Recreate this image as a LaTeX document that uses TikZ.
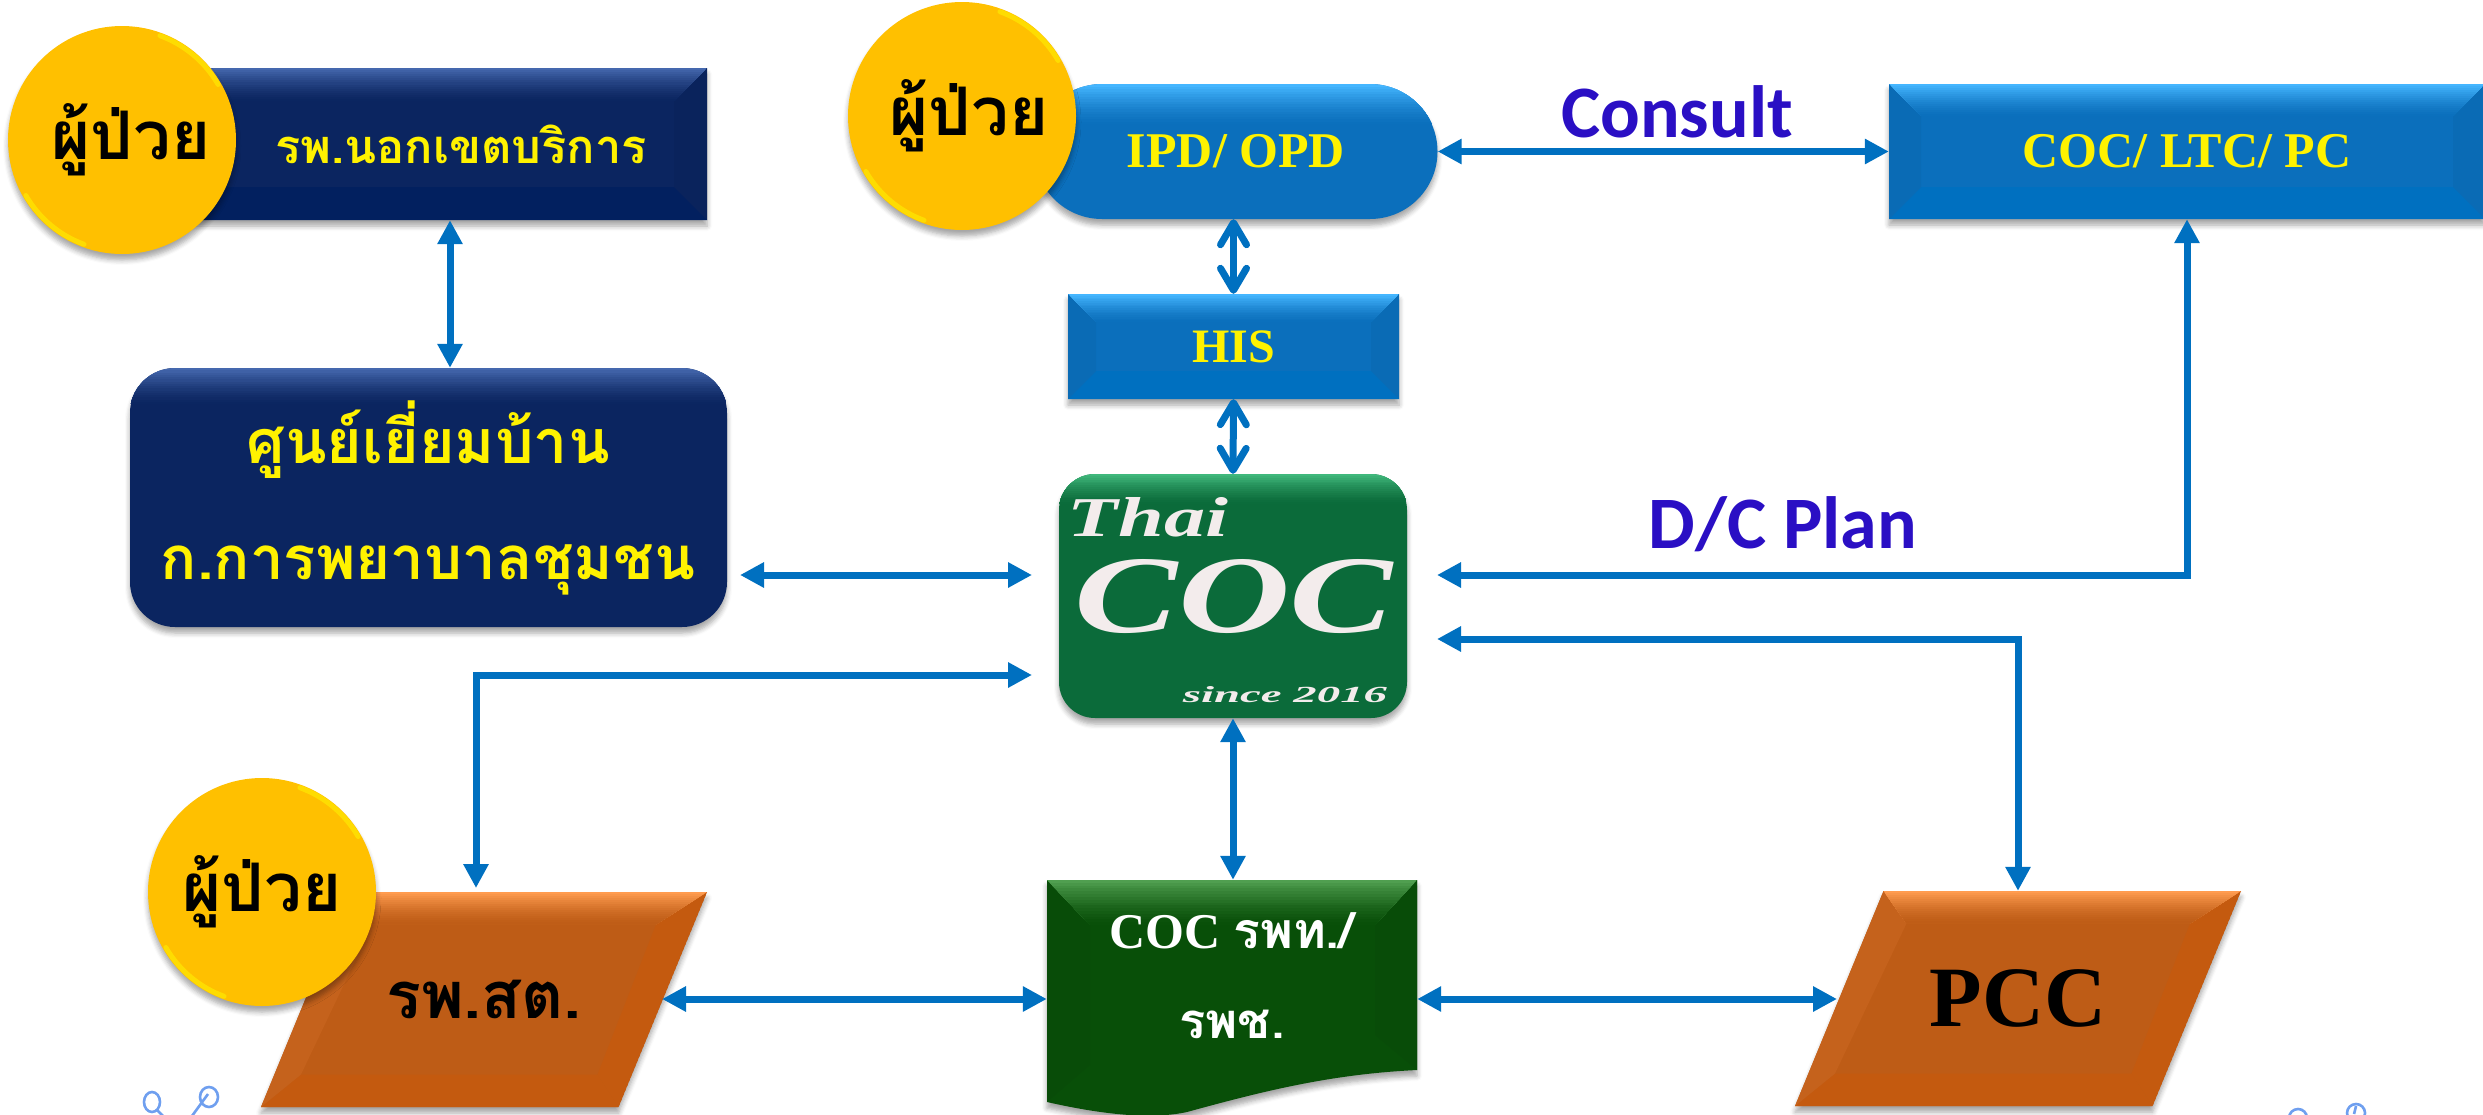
\documentclass[tikz,border=0pt]{standalone}
\usepackage{fontspec}
\usepackage{graphicx}
\usetikzlibrary{arrows.meta,shapes.geometric,shapes.misc,shadows.blur,calc}
\setmainfont{Liberation Serif}
\newfontfamily\thaifont[Script=Thai]{Loma}
\newfontfamily\labelfont{Carlito}
\newcommand{\fs}[1]{\fontsize{#1}{#1}\selectfont}
\definecolor{navy}{HTML}{0B2560}
\definecolor{navytop}{HTML}{4568AE}
\definecolor{navybot}{HTML}{02205F}
\definecolor{sky}{HTML}{0B6FBC}
\definecolor{skytop}{HTML}{45B6FF}
\definecolor{skybot}{HTML}{0070C0}
\definecolor{leaf}{HTML}{0B6B3A}
\definecolor{leaftop}{HTML}{40B87C}
\definecolor{forest}{HTML}{084F08}
\definecolor{foresttop}{HTML}{509F50}
\definecolor{forestbot}{HTML}{034A02}
\definecolor{rust}{HTML}{BE5C16}
\definecolor{rusttop}{HTML}{FF9C50}
\definecolor{rustbot}{HTML}{C45A0F}
\definecolor{gold}{HTML}{FFC000}
\definecolor{wire}{HTML}{0070C0}
\definecolor{ink}{HTML}{2A0FC4}
\definecolor{logotext}{HTML}{F3ECEC}
\definecolor{curl}{HTML}{6F9FEF}
\tikzset{
  softshadow/.style={blur shadow={shadow xshift=0pt,shadow yshift=-6pt,shadow blur radius=5pt,shadow blur steps=5,shadow opacity=35}},
  bevel/.style n args={4}{fill=#2,softshadow,path picture={
    \fill[#3,sharp corners] ([xshift=#4,yshift=#4]path picture bounding box.south west) -- (path picture bounding box.south west) -- (path picture bounding box.south east) -- ([xshift=-#4,yshift=#4]path picture bounding box.south east) -- cycle;
    \fill[#2!96!black,sharp corners] (path picture bounding box.north east) -- (path picture bounding box.south east) -- ([xshift=-#4,yshift=#4]path picture bounding box.south east) -- ([xshift=-#4,yshift=-#4]path picture bounding box.north east) -- cycle;
    \fill[#2!96!black,sharp corners] (path picture bounding box.north west) -- (path picture bounding box.south west) -- ([xshift=#4,yshift=#4]path picture bounding box.south west) -- ([xshift=#4,yshift=-#4]path picture bounding box.north west) -- cycle;
    \begin{scope}[sharp corners]
    \clip (path picture bounding box.north west) -- (path picture bounding box.north east) -- ([xshift=-#4,yshift=-#4]path picture bounding box.north east) -- ([xshift=#4,yshift=-#4]path picture bounding box.north west) -- cycle;
    \foreach \i in {0,...,15}{
      \pgfmathtruncatemacro\pct{100*(1-\i/16)^1.5}
      \fill[#1!\pct!#2] ([yshift=-\i*#4/16]path picture bounding box.north west) rectangle ([yshift=-#4]path picture bounding box.north east);
    }
    \end{scope}
  }},
  softtop/.style n args={3}{fill=#2,softshadow,path picture={
    \foreach \i in {0,...,15}{
      \pgfmathtruncatemacro\pct{100*(1-\i/16)^1.5}
      \fill[#1!\pct!#2,sharp corners] ([yshift=-\i*#3/16]path picture bounding box.north west) rectangle ([yshift=-#3]path picture bounding box.north east);
    }
  }},
  patient/.style={circle,minimum size=228pt,inner sep=0pt,fill=gold,softshadow,path picture={
    \draw[yellow!80!gold,line width=5pt,line cap=round,opacity=.7] ([shift={(30:111pt)}]path picture bounding box.center) arc[start angle=30,end angle=70,radius=111pt];
    \draw[yellow!80!gold,line width=5pt,line cap=round,opacity=.7] ([shift={(210:111pt)}]path picture bounding box.center) arc[start angle=210,end angle=250,radius=111pt];
  }},
  link/.style={draw=wire,line width=7pt,-,{Triangle[length=24pt,width=24pt]}-{Triangle[length=24pt,width=24pt]}},
  openlink/.style={draw=wire,line width=7pt,{Straight Barb[length=22pt,width=26pt,round]}-{Straight Barb[length=22pt,width=26pt,round]}},
  yellowtxt/.style={text=yellow,font=\bfseries},
  curlstroke/.style={draw=curl,line width=2.6pt},
}
% bevelled parallelogram, centred at (#1,#2)
\newcommand{\paraback}[2]{%
\begin{scope}[shift={(#1,#2)}]
\path[fill=rust,softshadow] (-134.5,-107.5) -- (223,-107.5) -- (134.5,107.5) -- (-223,107.5) -- cycle;
\begin{scope}
\clip (-134.5,-107.5) -- (223,-107.5) -- (134.5,107.5) -- (-223,107.5) -- cycle;
\fill[rustbot] (-223,107.5) -- (134.5,107.5) -- (113.5,75) -- (-183,75) -- cycle;
\fill[rustbot] (223,-107.5) -- (134.5,107.5) -- (113.5,75) -- (172,-75) -- cycle;
\fill[rust!90!rusttop] (-134.5,-107.5) -- (-223,107.5) -- (-183,75) -- (-111.5,-75) -- cycle;
\clip (-134.5,-107.5) -- (223,-107.5) -- (172,-75) -- (-111.5,-75) -- cycle;
\foreach \i in {0,...,15}{
  \pgfmathtruncatemacro\pct{100*(1-\i/16)^1.5}
  \fill[rusttop!\pct!rust] (-230,-107.5+\i*32.5/16) rectangle (230,-75);
}
\end{scope}
\end{scope}}
\begin{document}
\begin{tikzpicture}[x=1pt,y=-1pt]
\clip (0,0) rectangle (2483,1114);
% coordinates for connector ends that stop short of a shape
\coordinate (roundE) at (740,575);
\coordinate (logoW1) at (1032,575);
\coordinate (logoW2) at (1032,675);
\coordinate (logoE1) at (1437,575);
\coordinate (logoE2) at (1437,639);
\coordinate (rsTop) at (476,888);
\coordinate (rsE) at (662,999);
\coordinate (pccW) at (1837,999);
% top-left
\node[rectangle,minimum width=514pt,minimum height=152pt,inner sep=0pt,bevel={navytop}{navy}{navybot}{33pt},yellowtxt] (out) at (450,144) {\hspace*{22pt}\raisebox{-2pt}{\thaifont\fs{47}รพ.นอกเขตบริการ}};
\node[patient] (pt1) at (122,140) {\hspace*{18pt}\raisebox{-8pt}{\thaifont\bfseries\fs{67}ผู้ป่วย}};
\node[rectangle,rounded corners=45pt,minimum width=597pt,minimum height=259pt,inner sep=0pt,softtop={navytop}{navy}{36pt}] (home) at (428.5,497.5) {};
\node[text=yellow,font=\bfseries,inner sep=0pt,anchor=base] (homeA) at (428,463) {\thaifont\fs{61}ศูนย์เยี่ยมบ้าน};
\node[text=yellow,font=\bfseries,inner sep=0pt,anchor=base] (homeB) at (428,579) {\thaifont\fs{60}ก.การพยาบาลชุมชน};
% top-centre
\node[rounded rectangle,minimum width=403pt,minimum height=135pt,inner sep=0pt,softtop={skytop}{sky}{40pt},yellowtxt] (ipd) at (1236,151.5) {\raisebox{-2pt}{\fs{50}IPD/ OPD}};
\node[patient] (pt2) at (962,116) {\hspace*{14pt}\raisebox{-6pt}{\thaifont\bfseries\fs{67}ผู้ป่วย}};
\node[rectangle,minimum width=331pt,minimum height=105pt,inner sep=0pt,bevel={skytop}{sky}{skybot}{28pt},yellowtxt] (his) at (1233.5,346.5) {\raisebox{-3pt}{\fs{48}HIS}};
% top-right
\node[rectangle,minimum width=596pt,minimum height=135pt,inner sep=0pt,bevel={skytop}{sky}{skybot}{32pt},yellowtxt] (coc) at (2187,151.5) {\raisebox{-2pt}{\fs{50}COC/ LTC/ PC}};
% logo
\node[rectangle,rounded corners=36pt,minimum width=348pt,minimum height=244pt,inner sep=0pt,softtop={leaftop}{leaf}{30pt}] (logo) at (1233,596) {};
\node[text=logotext,inner sep=0pt] (logoThai) at (1148,517.5) {\resizebox{160pt}{39pt}{\bfseries\itshape Thai}};
\node[text=logotext,inner sep=0pt] (logoCoc) at (1234,596.5) {\resizebox{318pt}{73pt}{\bfseries\itshape COC}};
\node[text=logotext,inner sep=0pt] (logoSince) at (1285,694.5) {\resizebox{204pt}{16pt}{\bfseries\itshape since 2016}};
% bottom row
\paraback{484}{999.5}
\node[minimum width=447pt,minimum height=215pt,inner sep=0pt] (rs) at (484,999.5) {\thaifont\bfseries\fs{65}รพ.สต.};
\node[patient] (pt3) at (262,892) {\thaifont\bfseries\fs{67}ผู้ป่วย};
\node[minimum width=370pt,minimum height=238pt,inner sep=0pt] (doc) at (1232,999) {};
\begin{scope}
\path[fill=forest,softshadow] (1047,880) -- (1417,880) -- (1417,1070) .. controls (1333,1074) and (1267,1090) .. (1187,1112) .. controls (1150,1120) and (1100,1114) .. (1047,1102) -- cycle;
\clip (1047,880) -- (1417,880) -- (1417,1070) .. controls (1333,1074) and (1267,1090) .. (1187,1112) .. controls (1150,1120) and (1100,1114) .. (1047,1102) -- cycle;
\fill[forest!96!black] (1047,880) -- (1090,925) -- (1090,1065) -- (1047,1102) -- cycle;
\fill[forest!96!black] (1417,880) -- (1375,925) -- (1375,1035) -- (1417,1070) -- cycle;
\clip (1047,880) -- (1417,880) -- (1375,925) -- (1090,925) -- cycle;
\foreach \i in {0,...,15}{
  \pgfmathtruncatemacro\pct{100*(1-\i/16)^1.5}
  \fill[foresttop!\pct!forest] (1047,880+\i*45/16) rectangle (1417,925);
}
\end{scope}
\node[text=white,font=\bfseries,inner sep=0pt,anchor=base] (docA) at (1232,948) {\fs{50}COC {\thaifont\fs{50}รพท./}};
\node[text=white,font=\bfseries,inner sep=0pt,anchor=base] (docB) at (1232,1038) {\thaifont\fs{49}รพช.};
\paraback{2018}{998.5}
\node[minimum width=447pt,minimum height=215pt,inner sep=0pt] (pcc) at (2018,998.5) {\bfseries\fs{86}PCC};
% labels
\node[text=ink,inner sep=0pt,anchor=base] (consult) at (1677,137) {\labelfont\bfseries\fs{74}Consult};
\node[text=ink,inner sep=0pt,anchor=base] (dcplan) at (1783,548) {\labelfont\bfseries\fs{74}D/C Plan};
% connectors
\draw[link] (out.south) -- (out.south |- home.north);
\draw[link] (roundE) -- (logoW1);
\draw[openlink] (ipd.south -| his.north) -- (his.north);
\draw[openlink] (his.south) -- (logo.north);
\draw[link] (ipd.east) -- (coc.west);
\draw[link] (logoE1) -| (coc.south);
\draw[link] (logoE2) -| (pcc.north);
\draw[link] (logoW2) -| (rsTop);
\draw[link] (logo.south) -- (logo.south |- doc.north);
\draw[link] (rsE) -- (doc.west);
\draw[link] (doc.east) -- (pccW);
% decorative curls
\draw[curlstroke] (152,1102) ellipse[x radius=8pt,y radius=10pt];
\draw[curlstroke] (157,1110) -- (163,1116);
\draw[curlstroke] (209,1097) ellipse[x radius=9pt,y radius=10pt];
\draw[curlstroke] (208,1094) -- (192,1116);
\draw[curlstroke] (2298,1118) circle[radius=9pt];
\draw[curlstroke] (2356,1113) circle[radius=9pt];
\draw[curlstroke] (2356,1106) -- (2354,1114);
\end{tikzpicture}
\end{document}
